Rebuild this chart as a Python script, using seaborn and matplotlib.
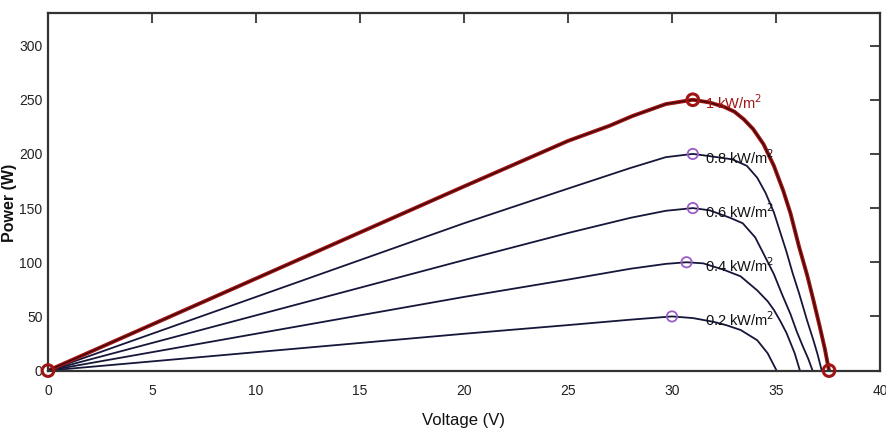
import matplotlib
matplotlib.use("Agg")
import matplotlib.pyplot as plt
import seaborn as sns
import pandas as pd

# ---- data ----
v_10 = [0, 5, 10, 15, 20, 25, 27, 28.1, 29.7, 31.0, 31.8, 32.5, 33.0, 33.45, 33.9, 34.4,
        34.9, 35.35, 35.7, 36.1, 36.5, 36.8, 37.1, 37.35, 37.55]
p_10 = [0, 42.5, 85, 127.5, 170, 212, 226, 235, 246, 250, 247.5, 243.5, 239, 232, 223, 209,
        189, 166, 145, 115, 88, 65, 41, 20, 0]

v_08 = [0, 5, 10, 15, 20, 25, 28, 29.7, 31.0, 31.8, 32.9, 33.6, 34.1, 34.5, 34.9, 35.2,
        35.5, 35.8, 36.1, 36.5, 36.8, 37.0, 37.2]
p_08 = [0, 34, 68, 102, 136, 168, 187, 197, 200, 198, 195, 189, 178, 164, 146, 128,
        110, 90, 72, 46, 28, 15, 0]

v_06 = [0, 5, 10, 15, 20, 25, 28, 29.7, 31.0, 31.8, 32.8, 33.4, 34.0, 34.4, 34.9, 35.3,
        35.7, 36.0, 36.3, 36.55, 36.76]
p_06 = [0, 25.5, 51, 76.5, 102, 127, 141, 147.5, 150, 148, 141, 136, 123, 108, 89, 70,
        52, 36, 22, 11, 0]

v_04 = [0, 5, 10, 15, 20, 25, 28, 29.7, 30.7, 31.5, 32.5, 33.3, 34.1, 34.6, 34.9, 35.2,
        35.5, 35.9, 36.15]
p_04 = [0, 17, 34, 51, 68, 84, 94, 98.5, 100, 99, 93, 87, 74, 64, 56, 46,
        35, 16, 0]

v_02 = [0, 5, 10, 15, 20, 25, 28, 29.0, 30.0, 31.0, 32.0, 32.6, 33.3, 34.1, 34.6, 35.03]
p_02 = [0, 8.5, 17, 25.5, 34, 42, 47, 48.5, 50, 48.5, 45, 42, 37.5, 28, 16, 0]

mpp_v = [31.0, 31.0, 31.0, 30.7, 30.0]
mpp_p = [250, 200, 150, 100, 50]
labels = ["1 kW/m$^2$", "0.8 kW/m$^2$", "0.6 kW/m$^2$", "0.4 kW/m$^2$", "0.2 kW/m$^2$"]

end_v = [0, 37.55]
end_p = [0, 0]

x_ticks = [0, 5, 10, 15, 20, 25, 30, 35, 40]
y_ticks = [0, 50, 100, 150, 200, 250, 300]

# ---- style ----
sns.set_style("white")
narrow = ["Liberation Sans Narrow", "Liberation Sans", "DejaVu Sans"]
plt.rcParams["font.family"] = narrow

fig = plt.figure(figsize=(8.86, 4.36), dpi=100)
ax = fig.add_axes([0.0542, 0.150, 0.939, 0.820])

navy = "#15163a"
red = "#a01414"
purple = "#9a5cc8"

curves = [(v_02, p_02), (v_04, p_04), (v_06, p_06), (v_08, p_08)]
for v, p in curves:
    df = pd.DataFrame({"V": v, "P": p})
    sns.lineplot(data=df, x="V", y="P", ax=ax, color=navy, linewidth=1.3,
                 sort=False, estimator=None)

df10 = pd.DataFrame({"V": v_10, "P": p_10})
sns.lineplot(data=df10, x="V", y="P", ax=ax, color=red, linewidth=2.8,
             sort=False, estimator=None)
sns.lineplot(data=df10, x="V", y="P", ax=ax, color="#3a0505", linewidth=0.9,
             sort=False, estimator=None)

# MPP markers
mdf = pd.DataFrame({"V": mpp_v[1:], "P": mpp_p[1:]})
sns.scatterplot(data=mdf, x="V", y="P", ax=ax, marker="o", s=55,
                facecolors="none", edgecolor=purple, linewidth=1.3, zorder=5)
sns.scatterplot(x=[mpp_v[0]], y=[mpp_p[0]], ax=ax, marker="o", s=70,
                facecolors="none", edgecolor=red, linewidth=2.2, zorder=5)
sns.scatterplot(x=end_v, y=end_p, ax=ax, marker="o", s=70,
                facecolors="none", edgecolor=red, linewidth=2.2, zorder=6,
                clip_on=False)

# labels
for i, (v, p, t) in enumerate(zip(mpp_v, mpp_p, labels)):
    col = red if i == 0 else "#111111"
    ax.text(31.6, p - 3, t, ha="left", va="center", fontsize=10.5,
            color=col, family=narrow, zorder=4)

ax.set_xlim(0, 40)
ax.set_ylim(0, 330)
ax.set_xticks(x_ticks)
ax.set_yticks(y_ticks)
ax.set_xticklabels([str(t) for t in x_ticks])
ax.set_yticklabels([str(t) for t in y_ticks])
ax.tick_params(direction="in", length=7, width=1.2, top=True, right=True,
               labelsize=10, colors="#222222")
ax.tick_params(axis="x", pad=10)
ax.tick_params(axis="y", pad=4)
for s in ax.spines.values():
    s.set_visible(True)
    s.set_color("#333333")
    s.set_linewidth(1.6)

ax.set_xlabel("Voltage (V)", fontsize=12, family=narrow, color="#111111")
ax.xaxis.set_label_coords(0.5, -0.118)
ax.set_ylabel("Power (W)", fontsize=11.5, fontweight="bold",
              family=["Liberation Sans", "DejaVu Sans"], color="#111111")
ax.yaxis.set_label_coords(-0.037, 0.47)

fig.savefig("out.png", dpi=100)
